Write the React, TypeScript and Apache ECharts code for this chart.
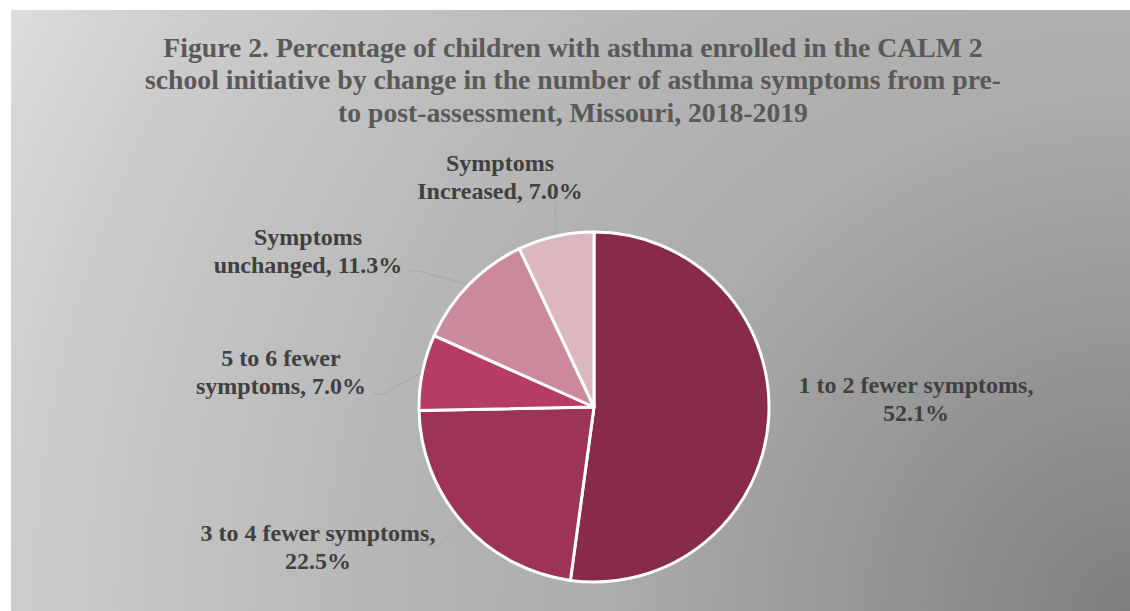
import React, { useEffect, useRef } from "react";
import * as echarts from "echarts";

const titleLines = [
  "Figure 2. Percentage of children with asthma enrolled in the CALM 2",
  "school initiative by change in the number of asthma symptoms from pre-",
  "to post-assessment, Missouri, 2018-2019",
];

const categories = [
  "1 to 2 fewer symptoms",
  "3 to 4 fewer symptoms",
  "5 to 6 fewer\nsymptoms",
  "Symptoms\nunchanged",
  "Symptoms\nIncreased",
];
const values = [52.1, 22.5, 7.0, 11.3, 7.0];
const breakBeforeValue = [true, true, false, false, false];

// layout (not data)
const sliceColors = ["#872a4b", "#9e3358", "#b73b67", "#cb8a9b", "#dcb7bf"];
const labelAnchors: [number, number][] = [
  [916, 399],
  [318, 547],
  [281, 372],
  [308, 251],
  [500, 177],
];
const leaderTails: [number, number][][] = [
  [],
  [[438, 546], [428, 546]],
  [[383, 394], [373, 394]],
  [[418, 271], [409, 271]],
  [[555, 203]],
];

export default function App() {
  const ref = useRef<HTMLDivElement>(null);
  useEffect(() => {
    if (!ref.current) return;
    const chart = echarts.init(ref.current, undefined, { renderer: "svg" });
    chart.setOption({
      animation: false,
      graphic: [
        {
          type: "rect",
          z: -10,
          silent: true,
          shape: { x: 11, y: 10, width: 1119, height: 601 },
          style: {
            fill: {
              type: "radial",
              x: 1130,
              y: 611,
              r: 1270,
              global: true,
              colorStops: [
                { offset: 0, color: "#7e7e7e" },
                { offset: 0.42, color: "#adadad" },
                { offset: 0.57, color: "#b4b4b4" },
                { offset: 0.88, color: "#cdcdcd" },
                { offset: 1, color: "#dddddd" },
              ],
            },
          },
        },
        {
          type: "text",
          z: 10,
          x: 573,
          y: 31,
          style: {
            text: titleLines.join("\n"),
            font: "bold 27.7px 'Liberation Serif'",
            lineHeight: 32.5,
            fill: "#595959",
            align: "center",
            verticalAlign: "top",
          },
        },
      ],
      series: [
        {
          type: "pie",
          center: [594, 407],
          radius: 175,
          startAngle: 90,
          clockwise: true,
          avoidLabelOverlap: false,
          itemStyle: { borderColor: "#ffffff", borderWidth: 3 },
          label: {
            show: true,
            position: "outside",
            fontFamily: "Liberation Serif",
            fontWeight: "bold",
            fontSize: 24,
            lineHeight: 28,
            color: "#404040",
            align: "center",
            formatter: (p: any) =>
              p.name + "," + (breakBeforeValue[p.dataIndex] ? "\n" : " ") + Number(p.value).toFixed(1) + "%",
          },
          labelLine: {
            show: true,
            lineStyle: { color: "#a6a6a6", width: 1 },
          },
          labelLayout: (params: any) => {
            const i = params.dataIndex;
            const p0 = params.labelLinePoints ? params.labelLinePoints[0] : null;
            const tail = leaderTails[i];
            const res: any = {
              x: labelAnchors[i][0],
              y: labelAnchors[i][1],
              align: "center",
              verticalAlign: "middle",
            };
            if (p0 && tail.length) {
              res.labelLinePoints = [p0, ...tail].slice(0, 3);
              if (tail.length === 1) res.labelLinePoints = [p0, [p0[0], (p0[1] + tail[0][1]) / 2], tail[0]];
            }
            return res;
          },
          data: categories.map((name, i) => ({
            name,
            value: values[i],
            itemStyle: { color: sliceColors[i] },
            labelLine: { show: leaderTails[i].length > 0 },
          })),
        },
      ],
    });
    return () => chart.dispose();
  }, []);
  return (
    <div
      ref={ref}
      style={{ position: "fixed", left: 0, top: 0, width: 1130, height: 611, background: "#ffffff" }}
    />
  );
}
